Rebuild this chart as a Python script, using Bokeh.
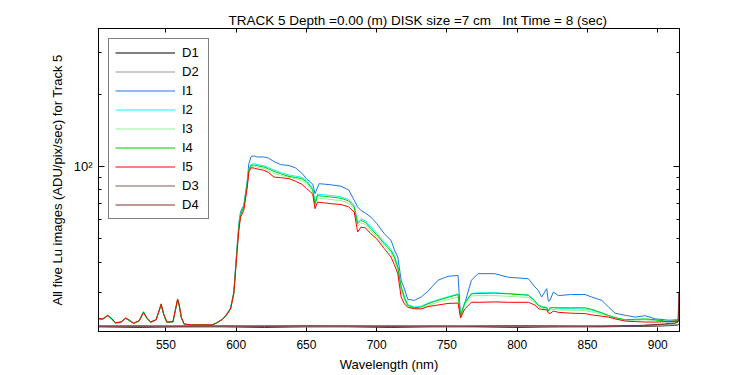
from bokeh.plotting import figure
from bokeh.models import Range1d, FixedTicker, LinearAxis, LogAxis, CustomJSTickFormatter
from bokeh.embed import file_html
from bokeh.resources import INLINE

# ---------------- data ----------------
wl = [502, 505, 508.6, 511, 514, 518, 521.4, 524, 527, 531,
      534, 536.5, 539, 543, 546.6, 548.5, 550.7, 555, 558.3, 559.5,
      561, 563, 568, 575, 583, 586, 590, 593, 596, 598.3,
      600.7, 601.9, 603.1, 605.4, 607.9, 609, 610.7, 613, 615, 619.7,
      623, 626.9, 631.6, 637.6, 642, 646.7, 650, 653.1, 654.5, 656.1,
      657.9, 659, 663, 667.4, 674.5, 680, 684, 686.4, 688.8, 692,
      695.9, 700, 705.4, 710.2, 712.6, 715, 717.4, 719.7, 722.1, 726.9,
      731.6, 736.4, 743.6, 750.7, 757.9, 759.7, 762.6, 767.4, 772.1, 784,
      793.6, 807.9, 812.6, 815, 817.4, 821, 822.1, 823.3, 825.7, 829.3,
      838, 848.3, 853.1, 860.2, 865, 869.7, 876.9, 884, 891.1, 898.3,
      907.9, 914, 915]

i1 = [23.2, 23.1, 23.9, 23.3, 22.3, 22.4, 23.3, 22.8, 22.2, 22.7,
      24.6, 23.3, 22.4, 22.9, 26.6, 24.1, 22.4, 22.5, 27.9, 26.3,
      23.4, 22.0, 21.9, 21.9, 21.9, 22.3, 23.1, 24.2, 25.8, 30.0,
      47.0, 58.0, 65.0, 69.0, 87.7, 103.0, 110.4, 110.8, 109.7, 109.7,
      108.5, 105.0, 102.0, 101.0, 99.0, 94.0, 89.0, 86.0, 84.5, 77.2,
      82.0, 84.9, 84.5, 84.0, 82.9, 80.0, 72.5, 67.9, 65.7, 64.0,
      61.6, 58.0, 52.5, 49.3, 45.0, 42.0, 33.6, 31.0, 28.0, 27.7,
      28.6, 30.2, 33.6, 34.9, 35.2, 23.6, 26.8, 33.6, 35.8, 35.8,
      34.6, 34.1, 31.5, 30.5, 28.6, 31.0, 27.5, 27.7, 30.0, 29.0,
      29.3, 29.3, 28.6, 27.7, 26.0, 24.5, 24.0, 23.6, 23.9, 23.2,
      22.9, 23.0, 23.0]

i2 = [23.3, 23.2, 24.1, 23.4, 22.4, 22.5, 23.4, 22.9, 22.3, 22.8,
      24.9, 23.4, 22.5, 23.0, 26.7, 24.1, 22.5, 22.6, 28.0, 26.4,
      23.5, 22.1, 21.9, 21.9, 21.9, 22.4, 23.1, 24.1, 25.7, 29.7,
      46.5, 56.5, 63.5, 68.5, 86.0, 98.0, 102.5, 102.8, 102.0, 100.8,
      99.2, 96.8, 94.6, 92.2, 91.3, 90.2, 87.6, 83.3, 81.0, 71.5,
      76.9, 76.6, 76.3, 75.8, 74.8, 73.0, 68.9, 58.8, 60.6, 59.4,
      56.0, 52.8, 48.4, 45.2, 42.6, 38.5, 31.8, 28.7, 26.6, 26.0,
      26.2, 27.0, 27.9, 28.7, 29.5, 24.1, 27.1, 29.6, 29.8, 29.8,
      29.6, 29.2, 27.6, 26.5, 26.1, 25.9, 25.1, 25.7, 25.9, 25.7,
      25.6, 25.5, 25.2, 24.5, 23.9, 23.4, 22.9, 23.0, 23.1, 22.9,
      22.5, 22.7, 22.8]

i3 = [23.2, 23.1, 23.9, 23.3, 22.3, 22.5, 23.3, 22.8, 22.2, 22.8,
      24.6, 23.3, 22.5, 23.0, 26.6, 24.1, 22.5, 22.6, 27.9, 26.3,
      23.4, 22.0, 21.9, 21.9, 21.9, 22.3, 23.0, 24.0, 25.5, 29.5,
      45.5, 55.2, 62.4, 67.0, 83.8, 96.0, 100.0, 100.0, 99.5, 98.2,
      96.4, 93.6, 92.0, 90.2, 89.0, 87.6, 84.8, 80.8, 78.6, 68.9,
      74.2, 73.9, 73.5, 72.9, 72.2, 70.5, 66.5, 56.5, 58.3, 57.4,
      54.0, 51.0, 46.8, 43.5, 41.0, 37.0, 30.5, 27.8, 26.0, 25.5,
      25.7, 26.4, 27.2, 27.9, 28.6, 23.8, 26.5, 28.9, 29.0, 29.0,
      28.8, 28.5, 27.0, 26.0, 25.7, 25.5, 24.8, 25.3, 25.4, 25.3,
      25.2, 25.1, 24.8, 24.2, 23.8, 23.3, 22.8, 22.9, 23.0, 22.8,
      22.5, 22.7, 22.8]

i4 = [23.2, 23.1, 23.9, 23.3, 22.3, 22.5, 23.3, 22.8, 22.2, 22.8,
      24.8, 23.3, 22.5, 23.0, 26.5, 24.0, 22.4, 22.6, 27.8, 26.2,
      23.4, 22.0, 21.9, 21.9, 21.9, 22.3, 23.1, 24.1, 25.6, 29.6,
      46.0, 56.0, 63.0, 68.0, 85.0, 97.0, 101.3, 101.5, 101.0, 99.6,
      98.0, 95.5, 93.5, 91.0, 90.2, 89.1, 86.5, 82.2, 80.0, 70.1,
      75.9, 75.5, 75.2, 74.7, 73.8, 72.0, 67.9, 57.8, 59.7, 58.5,
      55.1, 52.0, 47.7, 44.5, 42.0, 38.0, 31.5, 28.5, 26.4, 25.8,
      26.0, 26.8, 27.7, 28.5, 29.3, 24.0, 27.0, 29.5, 29.6, 29.7,
      29.5, 29.1, 27.5, 26.4, 26.0, 25.8, 25.0, 25.8, 25.8, 25.8,
      25.8, 25.8, 25.4, 24.6, 24.0, 23.5, 23.0, 23.1, 23.2, 23.0,
      22.6, 22.8, 22.85]

i5 = [23.3, 23.2, 24.0, 23.4, 22.35, 22.5, 23.4, 22.9, 22.26, 22.8,
      24.7, 23.4, 22.5, 23.0, 26.8, 24.2, 22.5, 22.6, 28.1, 26.5,
      23.5, 22.1, 21.9, 21.9, 21.9, 22.3, 23.0, 24.0, 25.5, 29.5,
      44.8, 54.3, 61.6, 65.7, 82.2, 95.0, 99.0, 98.5, 97.8, 96.5,
      94.5, 90.5, 90.0, 89.1, 87.0, 84.5, 81.0, 78.3, 76.5, 66.8,
      71.2, 71.0, 70.6, 70.1, 69.5, 68.0, 64.7, 53.4, 56.0, 55.5,
      52.5, 50.0, 45.5, 42.0, 39.0, 35.8, 28.6, 26.8, 25.9, 25.6,
      25.5, 26.1, 26.5, 26.9, 27.0, 23.4, 25.5, 27.2, 27.2, 27.3,
      27.2, 27.2, 26.5, 25.6, 25.4, 25.3, 24.6, 24.4, 25.0, 24.7,
      24.5, 24.4, 24.1, 23.8, 23.6, 23.2, 22.7, 22.6, 22.5, 22.5,
      22.6, 22.7, 22.7]

wl_dark = [502, 530, 560, 590, 620, 650, 680, 710, 740, 770,
           800, 830, 860, 890, 905, 912, 914.5, 915]
d1 = [21.5, 21.4, 21.5, 21.5, 21.4, 21.5, 21.5, 21.4, 21.5, 21.5,
      21.4, 21.5, 21.5, 21.6, 21.7, 21.8, 21.9, 22.0]
d2 = [21.6, 21.6, 21.5, 21.6, 21.6, 21.5, 21.6, 21.6, 21.5, 21.6,
      21.6, 21.5, 21.6, 21.7, 21.8, 21.9, 22.0, 22.2]
d3 = [21.7, 21.6, 21.7, 21.6, 21.7, 21.7, 21.6, 21.7, 21.6, 21.7,
      21.7, 21.6, 21.7, 21.8, 22.0, 22.2, 22.5, 26.0]
d4 = [21.6, 21.7, 21.6, 21.7, 21.6, 21.7, 21.7, 21.6, 21.7, 21.6,
      21.7, 21.7, 21.6, 21.8, 22.1, 22.3, 22.6, 30.0]

x_ticks = [550, 600, 650, 700, 750, 800, 850, 900]
y_major = [100]
y_minor = [30, 40, 50, 60, 70, 80, 90, 200, 300]

for s in (i1, i2, i3, i4, i5):
    assert len(s) == len(wl), len(s)
for s in (d1, d2, d3, d4):
    assert len(s) == len(wl_dark)

FONT = "Liberation Sans"
NB = "\u00a0"

p = figure(width=750, height=375, output_backend="svg", toolbar_location=None,
           y_axis_type="log",
           x_range=Range1d(502, 915.5), y_range=Range1d(20.55, 376.5),
           min_border_left=98, min_border_right=71, min_border_top=28,
           min_border_bottom=44)

p.title.text = "TRACK 5 Depth =0.00 (m) DISK size =7 cm" + NB * 3 + "Int Time = 8 (sec)"
p.title.text_font = FONT
p.title.text_font_size = "13.5px"
p.title.text_font_style = "normal"
p.title.text_color = "black"
p.title.align = "left"
p.title.offset = 130
p.title.standoff = 2

p.xgrid.grid_line_color = None
p.ygrid.grid_line_color = None
p.outline_line_color = "black"
p.outline_line_width = 1
p.background_fill_color = "white"
p.border_fill_color = "white"

series = [
    ("D1", wl_dark, d1, "#000000"),
    ("D2", wl_dark, d2, "#999999"),
    ("I1", wl, i1, "#1a78e0"),
    ("I2", wl, i2, "#00ffff"),
    ("I3", wl, i3, "#99ee99"),
    ("I4", wl, i4, "#00c800"),
    ("I5", wl, i5, "#ff0000"),
    ("D3", wl_dark, d3, "#7f5a5a"),
    ("D4", wl_dark, d4, "#803030"),
]
for name, xs, ys, col in series:
    p.line(xs, ys, line_color=col, line_width=1, legend_label=name)

# axes
xa = p.xaxis[0]
xa.ticker = FixedTicker(ticks=x_ticks, minor_ticks=[])
xa.axis_label = "Wavelength (nm)"
ya = p.yaxis[0]
ya.ticker = FixedTicker(ticks=y_major, minor_ticks=y_minor)
ya.axis_label = "All five Lu images (ADU/pix/sec) for Track 5"
ya.major_label_overrides = {100: "10\u00b2"}

for ax in (xa, ya):
    ax.axis_label_text_font = FONT
    ax.axis_label_text_font_size = "13px"
    ax.axis_label_text_font_style = "normal"
    ax.major_label_text_font = FONT
    ax.major_label_text_font_size = "12px"
    ax.major_label_text_color = "black"
    ax.axis_label_text_color = "black"
    ax.major_tick_out = 0
    ax.minor_tick_out = 0
    ax.axis_line_color = "black"
    ax.major_tick_line_color = "black"
    ax.minor_tick_line_color = "black"
ya.major_label_text_font_size = "13px"
xa.major_tick_in = 4
ya.major_tick_in = 6
ya.minor_tick_in = 3
xa.major_label_standoff = 8
xa.axis_label_standoff = 5
ya.major_label_standoff = 6
ya.axis_label_standoff = 6

blank = CustomJSTickFormatter(code="return ''")
top = LinearAxis(ticker=FixedTicker(ticks=x_ticks, minor_ticks=[]), formatter=blank)
right = LogAxis(ticker=FixedTicker(ticks=y_major, minor_ticks=y_minor), formatter=blank)
for ax in (top, right):
    ax.major_label_standoff = 0
    ax.major_tick_out = 0
    ax.minor_tick_out = 0
    ax.axis_line_color = "black"
    ax.major_tick_line_color = "black"
    ax.minor_tick_line_color = "black"
top.major_tick_in = 4
right.major_tick_in = 6
right.minor_tick_in = 3
p.add_layout(top, "above")
p.add_layout(right, "right")

lg = p.legend[0]
lg.location = "top_left"
lg.margin = 10
lg.padding = 6
lg.spacing = 4
lg.glyph_height = 15
lg.label_height = 15
lg.glyph_width = 60
lg.label_standoff = 7
lg.label_text_font = FONT
lg.label_text_font_size = "13px"
lg.label_text_color = "black"
lg.border_line_color = "black"
lg.border_line_width = 1
lg.background_fill_alpha = 1.0

open("out.html", "w").write(file_html(p, INLINE))
